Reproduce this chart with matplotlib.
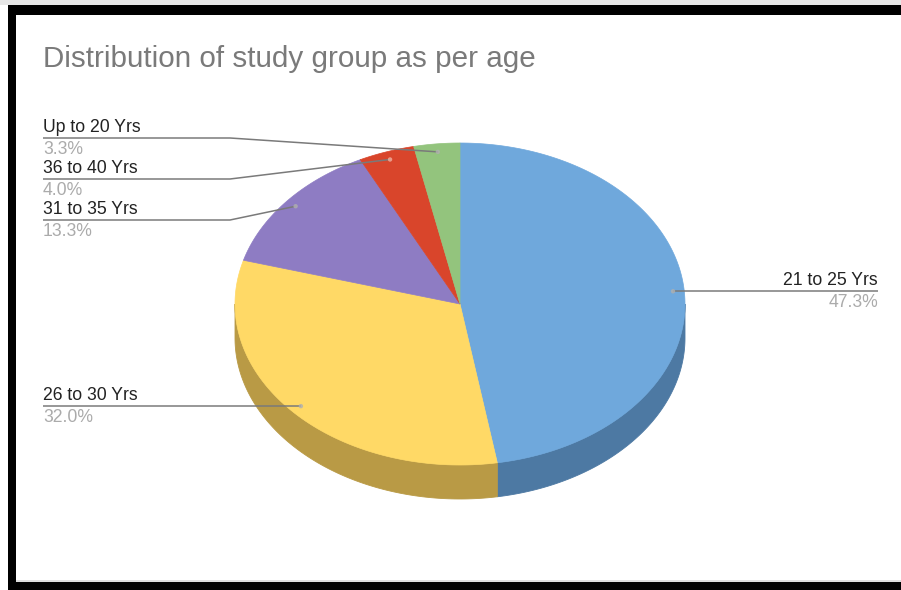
import numpy as np
import matplotlib
matplotlib.use("Agg")
import matplotlib.pyplot as plt
from matplotlib.patches import Polygon, Rectangle, Circle

plt.rcParams['font.family'] = ['Liberation Sans', 'DejaVu Sans']

# ---- data ----
categories = ["21 to 25 Yrs", "26 to 30 Yrs", "31 to 35 Yrs", "36 to 40 Yrs", "Up to 20 Yrs"]
values = [47.3, 32.0, 13.3, 4.0, 3.3]
pct_labels = ["47.3%", "32.0%", "13.3%", "4.0%", "3.3%"]
top_colors = ["#6fa8dc", "#ffd966", "#8e7cc3", "#d9452b", "#93c47d"]
side_colors = ["#4d79a3", "#b99a45", "#6a5c92", "#a33420", "#6e935d"]
title = "Distribution of study group as per age"

# ---- layout (pixels) ----
W, H = 901, 590
cx, cy, rx, ry, depth = 460, 304, 225, 161, 34
label_side = ["right", "left", "left", "left", "left"]
label_line_y = [None, None, 220, 179, 138]   # None -> line level with anchor point
left_x, knee_x, right_x = 43, 230, 878

fig = plt.figure(figsize=(W / 100, H / 100), dpi=100)
ax = fig.add_axes([0, 0, 1, 1])
ax.set_xlim(0, W)
ax.set_ylim(H, 0)
ax.axis("off")


def pt(theta_deg, r=1.0, dy=0.0):
    t = np.radians(theta_deg)
    return cx + r * rx * np.sin(t), cy - r * ry * np.cos(t) + dy


total = sum(values)
starts = np.cumsum([0] + values[:-1]) / total * 360
ends = np.cumsum(values) / total * 360

# sides
for s, e, c in zip(starts, ends, side_colors):
    a0, a1 = max(s, 90), min(e, 270)
    if a1 <= a0:
        continue
    th = np.linspace(a0, a1, 120)
    xs, ys = pt(th)
    xb, yb = pt(th[::-1], dy=depth)
    poly = np.column_stack([np.concatenate([xs, xb]), np.concatenate([ys, yb])])
    ax.add_patch(Polygon(poly, closed=True, facecolor=c, edgecolor=c, lw=0.6, zorder=2))

# top faces
for s, e, c in zip(starts, ends, top_colors):
    th = np.linspace(s, e, 200)
    xs, ys = pt(th)
    poly = np.column_stack([np.concatenate([[cx], xs]), np.concatenate([[cy], ys])])
    ax.add_patch(Polygon(poly, closed=True, facecolor=c, edgecolor=c, lw=0.5, zorder=3))

# labels with leader lines
line_col = "#7a7a7a"
for i, (s, e) in enumerate(zip(starts, ends)):
    mid = (s + e) / 2
    ax_, ay_ = pt(mid, r=0.95)
    ly = label_line_y[i] if label_line_y[i] is not None else ay_
    if label_side[i] == "right":
        xs_line = [ax_, right_x]
        ys_line = [ay_, ay_]
        tx, ha = right_x, "right"
    else:
        if label_line_y[i] is None:
            xs_line = [left_x, ax_]
            ys_line = [ly, ay_]
        else:
            xs_line = [left_x, knee_x, ax_]
            ys_line = [ly, ly, ay_]
        tx, ha = left_x, "left"
    ax.plot(xs_line, ys_line, color=line_col, lw=1.1, zorder=5, solid_capstyle="butt")
    ax.add_patch(Circle((ax_, ay_), 2.2, facecolor="#f0b0a0" if i == 3 else "#b0b0b0",
                        edgecolor="none", alpha=0.8, zorder=6))
    ax.text(tx, ly - 6, categories[i], ha=ha, va="baseline", fontsize=12.7,
            color="#222222", zorder=7)
    ax.text(tx, ly + 16, pct_labels[i], ha=ha, va="baseline", fontsize=12.7,
            color="#ababab", zorder=7)

# title
ax.text(43, 67, title, ha="left", va="baseline", fontsize=21.3, color="#7a7a7a")

# frame (black border, open on the right)
ax.add_patch(Rectangle((0, 0), W, 5, facecolor="#e6e6e6", edgecolor="none", zorder=10))
ax.add_patch(Rectangle((8, 5), W - 8, 10, facecolor="black", edgecolor="none", zorder=10))
ax.add_patch(Rectangle((8, 5), 7.5, H - 5, facecolor="black", edgecolor="none", zorder=10))
ax.add_patch(Rectangle((8, 582), W - 8, 8, facecolor="black", edgecolor="none", zorder=10))
ax.add_patch(Rectangle((15, 580), W - 15, 2, facecolor="#dddddd", edgecolor="none", zorder=9))

fig.savefig("out.png", dpi=100)
